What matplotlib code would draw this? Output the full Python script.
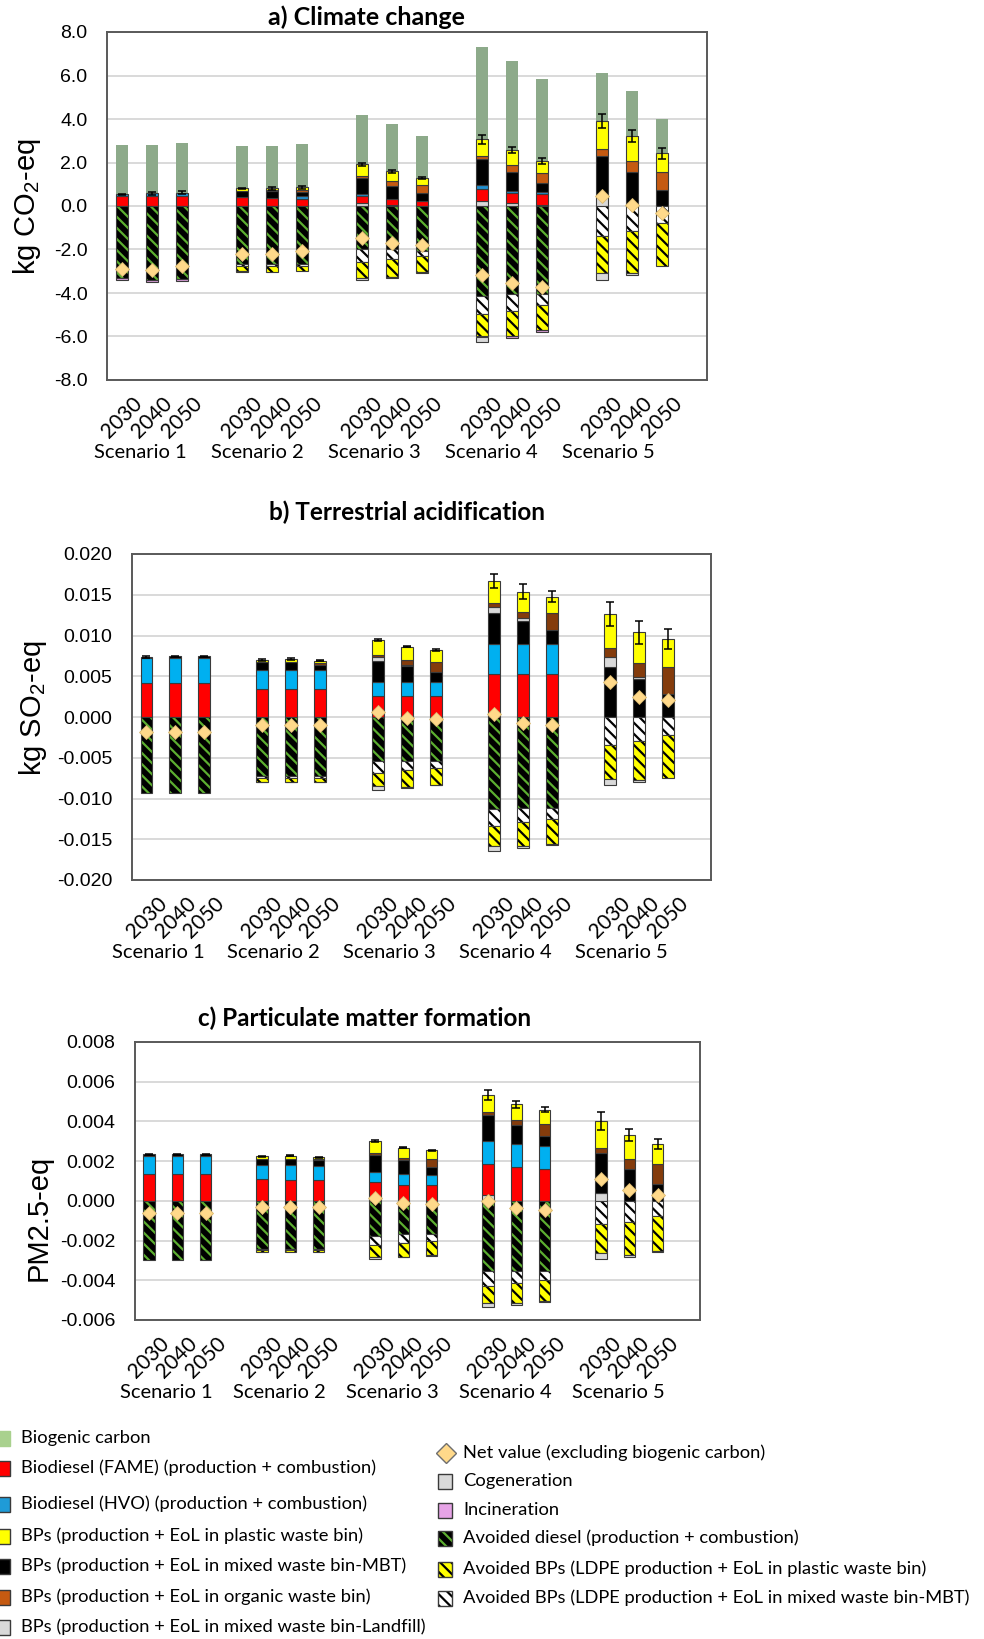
import numpy as np
import matplotlib.pyplot as plt
import matplotlib.transforms as mtransforms
from matplotlib.patches import Rectangle
from matplotlib.lines import Line2D
from matplotlib.ticker import FormatStrFormatter

plt.rcParams['font.family'] = ['Liberation Sans', 'DejaVu Sans']
plt.rcParams['axes.unicode_minus'] = False
plt.rcParams['hatch.linewidth'] = 1.6
plt.rcParams['mathtext.default'] = 'regular'

scenarios = ['Scenario 1', 'Scenario 2', 'Scenario 3', 'Scenario 4', 'Scenario 5']
years = ['2030', '2040', '2050']

# ---- a) Climate change (kg CO2-eq), 15 bars: S1 2030..2050, ..., S5 2030..2050
a_biogenic = [2.26, 2.22, 2.29, 1.97, 1.97, 1.96, 2.26, 2.19, 1.97, 4.23, 4.08, 3.78, 2.22, 2.07, 1.56]
a_landfill = [0, 0, 0, 0, 0, 0, 0.15, 0.04, 0, 0.23, 0.12, 0.05, 0.46, 0.02, 0]
a_fame = [0.46, 0.46, 0.46, 0.40, 0.35, 0.32, 0.30, 0.26, 0.23, 0.57, 0.49, 0.49, 0, 0, 0]
a_hvo = [0.08, 0.12, 0.15, 0.03, 0.04, 0.14, 0.08, 0, 0, 0.18, 0.08, 0.10, 0, 0, 0]
a_mbt = [0, 0, 0, 0.26, 0.30, 0.20, 0.76, 0.64, 0.35, 1.16, 0.89, 0.40, 1.83, 1.55, 0.72]
a_organic = [0, 0, 0, 0, 0.04, 0.09, 0.10, 0.20, 0.37, 0.15, 0.29, 0.48, 0.34, 0.52, 0.86]
a_plastic = [0, 0, 0, 0.12, 0.08, 0.12, 0.52, 0.46, 0.32, 0.77, 0.70, 0.54, 1.27, 1.12, 0.84]
a_av_diesel = [-3.33, -3.39, -3.36, -2.68, -2.68, -2.68, -1.99, -1.96, -2.06, -4.13, -4.05, -4.05, 0, 0, 0]
a_av_mbt = [0, 0, 0, -0.08, -0.10, -0.07, -0.57, -0.49, -0.23, -0.84, -0.76, -0.50, -1.38, -1.15, -0.76]
a_av_plastic = [0, 0, 0, -0.25, -0.25, -0.23, -0.73, -0.80, -0.76, -1.03, -1.15, -1.15, -1.71, -1.91, -1.99]
a_cogen = [0, 0, 0, 0, 0, 0, -0.10, -0.04, 0, -0.24, 0, 0, -0.31, -0.11, 0]
a_incin = [-0.08, -0.10, -0.08, -0.02, 0, 0, 0, 0, -0.04, 0, -0.13, -0.11, 0, 0, 0]
a_net = [-2.91, -2.94, -2.78, -2.19, -2.20, -2.07, -1.45, -1.68, -1.80, -3.17, -3.52, -3.72, 0.46, 0.05, -0.34]
a_err = [0.03, 0.06, 0.08, 0.03, 0.06, 0.07, 0.08, 0.07, 0.05, 0.19, 0.15, 0.13, 0.32, 0.29, 0.25]

# ---- b) Terrestrial acidification (kg SO2-eq)
b_fame = [0.00423, 0.00423, 0.00423, 0.00341, 0.00341, 0.00341, 0.00253, 0.00253, 0.00253, 0.00527, 0.00527, 0.00527, 0, 0, 0]
b_hvo = [0.00297, 0.00300, 0.00300, 0.00236, 0.00236, 0.00236, 0.00176, 0.00176, 0.00176, 0.00367, 0.00367, 0.00367, 0, 0, 0]
b_mbt = [0.0002, 0.0002, 0.0002, 0.00095, 0.00100, 0.00066, 0.00253, 0.00200, 0.00120, 0.00380, 0.00290, 0.00176, 0.00612, 0.00465, 0.00280]
b_landfill = [0, 0, 0, 0, 0, 0, 0.00050, 0.00010, 0, 0.00073, 0.00030, 0, 0.00130, 0.00030, 0]
b_organic = [0, 0, 0, 0, 0, 0.00020, 0.00030, 0.00063, 0.00127, 0.00057, 0.00080, 0.00200, 0.00100, 0.00170, 0.00330]
b_plastic = [0, 0, 0, 0.00031, 0.00038, 0.00030, 0.00185, 0.00163, 0.00148, 0.00265, 0.00243, 0.00208, 0.00423, 0.00372, 0.00345]
b_av_diesel = [-0.00927, -0.00935, -0.00927, -0.00724, -0.00724, -0.00724, -0.00543, -0.00543, -0.00543, -0.01127, -0.01114, -0.01114, 0, 0, 0]
b_av_mbt = [0, 0, 0, -0.00020, -0.00020, -0.00020, -0.00143, -0.00110, -0.00080, -0.00212, -0.00176, -0.00135, -0.00347, -0.00300, -0.00224]
b_av_plastic = [0, 0, 0, -0.00050, -0.00050, -0.00050, -0.00163, -0.00204, -0.00210, -0.00245, -0.00294, -0.00314, -0.00412, -0.00470, -0.00523]
b_cogen = [0, 0, 0, -0.00003, -0.00003, -0.00003, -0.00041, -0.00013, -0.00007, -0.00061, -0.00020, -0.00013, -0.00081, -0.00030, 0]
b_net = [-0.00187, -0.00187, -0.00187, -0.00102, -0.00100, -0.00102, 0.00057, -0.00012, -0.00024, 0.00037, -0.00073, -0.00100, 0.00424, 0.00240, 0.00204]
b_err = [0.0001, 0.0001, 0.0001, 0.0001, 0.0001, 0.0001, 0.0001, 0.0001, 0.0001, 0.0009, 0.0009, 0.00065, 0.0015, 0.0014, 0.0012]

# ---- c) Particulate matter formation (PM2.5-eq)
c_landfill = [0, 0, 0, 0, 0, 0, 0, 0, 0, 0.00028, 0, 0, 0.00042, 0, 0]
c_fame = [0.00133, 0.00133, 0.00133, 0.00109, 0.00104, 0.00104, 0.00095, 0.00082, 0.00079, 0.00159, 0.00168, 0.00162, 0, 0, 0]
c_hvo = [0.00092, 0.00092, 0.00092, 0.00070, 0.00075, 0.00072, 0.00050, 0.00052, 0.00050, 0.00112, 0.00116, 0.00112, 0, 0, 0]
c_mbt = [0.00009, 0.00009, 0.00009, 0.00034, 0.00032, 0.00028, 0.00084, 0.00070, 0.00042, 0.00131, 0.00100, 0.00055, 0.00199, 0.00162, 0.00084]
c_organic = [0, 0, 0, 0, 0, 0.00008, 0.00012, 0.00013, 0.00039, 0.00017, 0.00022, 0.00059, 0.00027, 0.00050, 0.00100]
c_plastic = [0, 0, 0, 0.00012, 0.00016, 0.00008, 0.00060, 0.00051, 0.00045, 0.00087, 0.00081, 0.00072, 0.00134, 0.00118, 0.00104]
c_av_diesel = [-0.00296, -0.00299, -0.00296, -0.00240, -0.00240, -0.00240, -0.00178, -0.00167, -0.00167, -0.00352, -0.00352, -0.00352, 0, 0, 0]
c_av_mbt = [0, 0, 0, -0.00005, -0.00005, -0.00005, -0.00045, -0.00044, -0.00034, -0.00077, -0.00060, -0.00047, -0.00119, -0.00106, -0.00077]
c_av_plastic = [0, 0, 0, -0.00012, -0.00012, -0.00012, -0.00059, -0.00070, -0.00072, -0.00087, -0.00104, -0.00104, -0.00146, -0.00167, -0.00176]
c_cogen = [0, 0, 0, 0, 0, 0, -0.00013, -0.00004, -0.00003, -0.00020, -0.00008, -0.00005, -0.00030, -0.00008, -0.00003]
c_net = [-0.00059, -0.00059, -0.00059, -0.00030, -0.00030, -0.00031, 0.00012, -0.00013, -0.00017, 0.0, -0.00034, -0.00047, 0.00112, 0.00054, 0.00032]
c_err = [0.00003, 0.00003, 0.00003, 0.00003, 0.00003, 0.00003, 0.00003, 0.00003, 0.00003, 0.00025, 0.00017, 0.00015, 0.00046, 0.00031, 0.00025]

HATCH = '\\\\\\'
# styles: facecolor, hatch colour, hatch
STYLE = {
    'landfill': ('#D9D9D9', None, None),
    'fame': ('#FF0000', None, None),
    'hvo': ('#00B0F0', None, None),
    'mbt': ('#000000', None, None),
    'organic': ('#843C0C', None, None),
    'plastic': ('#FFFF00', None, None),
    'cogen': ('#D9D9D9', None, None),
    'incin': ('#D59BD5', None, None),
    'av_diesel': ('#000000', '#5CAE30', HATCH),
    'av_plastic': ('#FFFF00', '#000000', HATCH),
    'av_mbt': ('#FFFFFF', '#000000', HATCH),
}
EDGE = '#3A3A3A'
BIO_COLOR = '#8DAA8A'
DIAMOND = '#FFD98A'

fig = plt.figure(figsize=(9.84, 16.39), dpi=100)
W, H = 984.0, 1639.0


def add_axes_px(x0, y0, x1, y1):
    return fig.add_axes([x0 / W, 1 - y1 / H, (x1 - x0) / W, (y1 - y0) / H])


def draw_seg(ax, x, v, bottom, name, width, colors):
    fc, hc, hatch = STYLE[name]
    fc = colors.get(name, fc)
    m = v != 0
    if not m.any():
        return
    if hatch:
        ax.bar(x[m], v[m], width, bottom=bottom[m], color=fc, edgecolor=hc,
               hatch=hatch, linewidth=0, zorder=3)
        ax.bar(x[m], v[m], width, bottom=bottom[m], fill=False,
               edgecolor=EDGE, linewidth=0.8, zorder=3)
    else:
        ax.bar(x[m], v[m], width, bottom=bottom[m], color=fc,
               edgecolor=EDGE, linewidth=0.8, zorder=3)


def draw_panel(ax, pos, neg, net, err, bio=None, width=0.41, colors={},
               sc_start=0.6, sc_step=4.0):
    x = np.array([g * 4 + i for g in range(5) for i in range(3)], dtype=float)
    bottom = np.zeros(len(x))
    for name, vals in pos:
        v = np.array(vals, dtype=float)
        draw_seg(ax, x, v, bottom, name, width, colors)
        bottom = bottom + v
    top = bottom.copy()
    if bio is not None:
        ax.bar(x, bio, width, bottom=top, color=BIO_COLOR, linewidth=0, zorder=2)
    bottom = np.zeros(len(x))
    for name, vals in neg:
        v = np.array(vals, dtype=float)
        draw_seg(ax, x, v, bottom, name, width, colors)
        bottom = bottom + v
    ax.errorbar(x, top, yerr=err, fmt='none', ecolor='black', elinewidth=1.1,
                capsize=3.2, capthick=1.1, zorder=4)
    ax.plot(x, net, 'D', ms=7.2, mfc=DIAMOND, mec='#D8B870', mew=0.6, zorder=5)

    ax.set_xlim(-0.5, 19.5)
    ax.set_xticks([])
    ax.yaxis.grid(True, color='#D9D9D9', linewidth=1.4)
    ax.set_axisbelow(True)
    ax.tick_params(axis='y', length=0, pad=14, labelsize=14)
    for s in ax.spines.values():
        s.set_color('#595959')
        s.set_linewidth(1.4)

    yr = mtransforms.offset_copy(ax.get_xaxis_transform(), fig=fig, y=-38, units='dots')
    sc = mtransforms.offset_copy(ax.get_xaxis_transform(), fig=fig, y=-72, units='dots')
    for g in range(5):
        for i in range(3):
            ax.text(g * 4 + i, 0, years[i], transform=yr, rotation=45, ha='center',
                    va='center', fontsize=15, family='Lato', clip_on=False)
        ax.text(sc_start + g * sc_step, 0, scenarios[g], transform=sc, ha='center',
                va='center', fontsize=14.5, family='Lato', clip_on=False)


# a)
ax_a = add_axes_px(107, 32, 707, 380)
draw_panel(ax_a,
           [('landfill', a_landfill), ('fame', a_fame), ('hvo', a_hvo), ('mbt', a_mbt),
            ('organic', a_organic), ('plastic', a_plastic)],
           [('av_diesel', a_av_diesel), ('av_mbt', a_av_mbt), ('av_plastic', a_av_plastic),
            ('cogen', a_cogen), ('incin', a_incin)],
           a_net, a_err, bio=a_biogenic, width=0.4,
           colors={'organic': '#C55A11', 'hvo': '#1F8FD0'}, sc_start=0.6, sc_step=3.9)
ax_a.set_ylim(-8, 8)
ax_a.set_yticks(np.arange(-8, 8.1, 2))
ax_a.yaxis.set_major_formatter(FormatStrFormatter('%.1f'))

# b)
ax_b = add_axes_px(132, 554, 711, 880)
draw_panel(ax_b,
           [('fame', b_fame), ('hvo', b_hvo), ('mbt', b_mbt), ('landfill', b_landfill),
            ('organic', b_organic), ('plastic', b_plastic)],
           [('av_diesel', b_av_diesel), ('av_mbt', b_av_mbt), ('av_plastic', b_av_plastic),
            ('cogen', b_cogen)],
           b_net, b_err, sc_start=0.4, sc_step=4.0)
ax_b.set_ylim(-0.02, 0.02)
ax_b.set_yticks(np.linspace(-0.02, 0.02, 9))
ax_b.yaxis.set_major_formatter(FormatStrFormatter('%.3f'))

# c)
ax_c = add_axes_px(135, 1042, 700, 1320)
draw_panel(ax_c,
           [('landfill', c_landfill), ('fame', c_fame), ('hvo', c_hvo), ('mbt', c_mbt),
            ('organic', c_organic), ('plastic', c_plastic)],
           [('av_diesel', c_av_diesel), ('av_mbt', c_av_mbt), ('av_plastic', c_av_plastic),
            ('cogen', c_cogen)],
           c_net, c_err, sc_start=0.6, sc_step=4.0)
ax_c.set_ylim(-0.006, 0.008)
ax_c.set_yticks(np.linspace(-0.006, 0.008, 8))
ax_c.yaxis.set_major_formatter(FormatStrFormatter('%.3f'))

# titles and y labels
fig.text(366 / W, 1 - 17 / H, 'a) Climate change', ha='center', va='center',
         fontsize=18, fontweight='bold', family='Lato')
fig.text(407 / W, 1 - 512 / H, 'b) Terrestrial acidification', ha='center', va='center',
         fontsize=17.5, fontweight='bold', family='Lato')
fig.text(365 / W, 1 - 1018 / H, 'c) Particulate matter formation', ha='center', va='center',
         fontsize=17.5, fontweight='bold', family='Lato')
fig.text(27 / W, 1 - 206 / H, 'kg CO$_2$-eq', rotation=90, ha='center', va='center', fontsize=21)
fig.text(33 / W, 1 - 708 / H, 'kg SO$_2$-eq', rotation=90, ha='center', va='center', fontsize=21)
fig.text(39 / W, 1 - 1218 / H, 'PM2.5-eq', rotation=90, ha='center', va='center', fontsize=21)

# legend (two columns, drawn by hand)
left_items = [
    ('Biogenic carbon', '#A9D18E', None, None, 1438),
    ('Biodiesel (FAME) (production + combustion)', '#FF0000', None, None, 1468),
    ('Biodiesel (HVO) (production + combustion)', '#1F9BD7', None, None, 1504),
    ('BPs (production + EoL in plastic waste bin)', '#FFFF00', None, None, 1536),
    ('BPs (production + EoL in mixed waste bin-MBT)', '#000000', None, None, 1566),
    ('BPs (production + EoL in organic waste bin)', '#C55A11', None, None, 1597),
    ('BPs (production + EoL in mixed waste bin-Landfill)', '#D9D9D9', None, None, 1627),
]
right_items = [
    ('Cogeneration', '#D9D9D9', None, None, 1481),
    ('Incineration', '#E6A3E6', None, None, 1510),
    ('Avoided diesel (production + combustion)', '#000000', '#5CAE30', HATCH, 1538),
    ('Avoided BPs (LDPE production + EoL in plastic waste bin)', '#FFFF00', '#000000', HATCH, 1569),
    ('Avoided BPs (LDPE production + EoL in mixed waste bin-MBT)', '#FFFFFF', '#000000', HATCH, 1598),
]


def legend_entry(x0, text_x, label, fc, hc, hatch, y):
    w, h = 14, 15
    if hatch:
        fig.add_artist(Rectangle((x0 / W, 1 - (y + h / 2) / H), w / W, h / H,
                                 transform=fig.transFigure, facecolor=fc, edgecolor=hc,
                                 hatch=hatch, linewidth=0))
    fig.add_artist(Rectangle((x0 / W, 1 - (y + h / 2) / H), w / W, h / H,
                             transform=fig.transFigure, facecolor=fc if not hatch else 'none',
                             edgecolor=EDGE if label != 'Biogenic carbon' else fc, linewidth=1.0))
    fig.text(text_x / W, 1 - y / H, label, ha='left', va='center', fontsize=13.2, family='Lato')


for label, fc, hc, hatch, y in left_items:
    legend_entry(-4, 21, label, fc, hc, hatch, y)
for label, fc, hc, hatch, y in right_items:
    legend_entry(438, 463, label, fc, hc, hatch, y)
fig.add_artist(Line2D([446 / W], [1 - 1453 / H], marker='D', ms=10, mfc=DIAMOND,
                      mec='#6E6E6E', mew=1.0, transform=fig.transFigure))
fig.text(463 / W, 1 - 1453 / H, 'Net value (excluding biogenic carbon)', ha='left', va='center',
         fontsize=13.2, family='Lato')

fig.savefig('out.png', dpi=100)
